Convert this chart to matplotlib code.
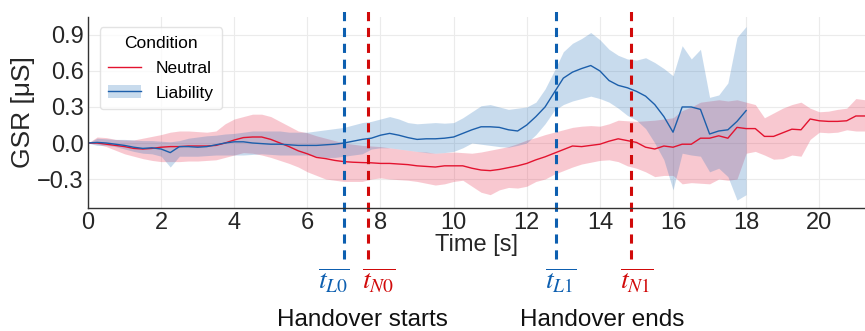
import numpy as np
import matplotlib
matplotlib.use("Agg")
import matplotlib.pyplot as plt
from matplotlib.patches import Patch
from matplotlib.lines import Line2D

plt.rcParams['font.family'] = ['Liberation Sans', 'DejaVu Sans']
plt.rcParams['mathtext.fontset'] = 'stix'

# time axis (0.25 s steps)
t_neutral = np.arange(0, 21.26, 0.25)
t_liability = np.arange(0, 18.01, 0.25)

neutral_mean = [
    0.00, 0.00, -0.01, -0.02, -0.03, -0.045, -0.05, -0.045, -0.035, -0.03,
    -0.03, -0.025, -0.025, -0.025, -0.02, 0.00, 0.025, 0.045, 0.05, 0.05,
    0.03, 0.00, -0.03, -0.065, -0.09, -0.12, -0.13, -0.145, -0.155, -0.16,
    -0.163, -0.165, -0.17, -0.17, -0.175, -0.18, -0.19, -0.195, -0.20, -0.19,
    -0.19, -0.19, -0.21, -0.225, -0.23, -0.22, -0.205, -0.19, -0.17, -0.14,
    -0.115, -0.085, -0.055, -0.025, -0.03, -0.02, -0.01, 0.015, 0.035, 0.02,
    0.005, -0.035, -0.05, -0.025, -0.035, -0.01, -0.01, 0.04, 0.04, 0.06,
    0.04, 0.13, 0.12, 0.12, 0.055, 0.055, 0.085, 0.115, 0.11, 0.20,
    0.185, 0.18, 0.18, 0.185, 0.225, 0.225]
neutral_upper = [
    0.00, 0.05, 0.045, 0.03, 0.025, 0.025, 0.04, 0.055, 0.07, 0.09,
    0.10, 0.10, 0.095, 0.09, 0.10, 0.16, 0.20, 0.22, 0.24, 0.24,
    0.22, 0.18, 0.14, 0.10, 0.085, 0.06, 0.04, 0.02, 0.00, -0.01,
    -0.02, -0.025, -0.03, -0.04, -0.05, -0.06, -0.07, -0.075, -0.085, -0.08,
    -0.075, -0.08, -0.085, -0.075, -0.06, -0.045, -0.03, -0.005, 0.025, 0.045,
    0.07, 0.09, 0.11, 0.13, 0.14, 0.145, 0.14, 0.16, 0.19, 0.185,
    0.18, 0.185, 0.19, 0.20, 0.21, 0.27, 0.30, 0.34, 0.35, 0.36,
    0.35, 0.36, 0.34, 0.32, 0.21, 0.25, 0.29, 0.32, 0.34, 0.29,
    0.26, 0.265, 0.28, 0.29, 0.37, 0.36]
neutral_lower = [
    0.00, -0.01, -0.03, -0.06, -0.09, -0.11, -0.13, -0.145, -0.155, -0.155,
    -0.155, -0.15, -0.15, -0.145, -0.14, -0.12, -0.10, -0.08, -0.085, -0.10,
    -0.12, -0.145, -0.17, -0.20, -0.24, -0.27, -0.30, -0.31, -0.32, -0.32,
    -0.32, -0.30, -0.29, -0.30, -0.305, -0.31, -0.32, -0.335, -0.35, -0.34,
    -0.32, -0.31, -0.36, -0.41, -0.43, -0.39, -0.37, -0.375, -0.36, -0.32,
    -0.30, -0.26, -0.23, -0.20, -0.175, -0.16, -0.145, -0.14, -0.155, -0.19,
    -0.21, -0.24, -0.28, -0.27, -0.27, -0.34, -0.33, -0.335, -0.34, -0.30,
    -0.31, -0.30, -0.085, -0.07, -0.10, -0.135, -0.13, -0.10, -0.11, 0.03,
    0.09, 0.085, 0.09, 0.11, 0.10, 0.10]

liability_mean = [
    0.00, 0.005, 0.00, -0.01, -0.02, -0.035, -0.045, -0.04, -0.05, -0.08,
    -0.03, -0.03, -0.035, -0.03, -0.015, 0.00, 0.01, 0.01, 0.00, -0.005,
    -0.01, -0.01, -0.015, -0.02, -0.02, -0.02, -0.015, -0.01, 0.00, 0.015,
    0.03, 0.04, 0.065, 0.08, 0.065, 0.045, 0.03, 0.035, 0.035, 0.04,
    0.05, 0.08, 0.11, 0.135, 0.135, 0.13, 0.11, 0.10, 0.15, 0.22,
    0.30, 0.42, 0.54, 0.59, 0.62, 0.645, 0.60, 0.52, 0.48, 0.46,
    0.43, 0.39, 0.32, 0.22, 0.09, 0.30, 0.30, 0.28, 0.075, 0.10,
    0.11, 0.18, 0.27]
liability_upper = [
    0.00, 0.04, 0.035, 0.03, 0.03, 0.025, 0.02, 0.02, 0.015, 0.01,
    0.02, 0.04, 0.05, 0.06, 0.065, 0.075, 0.08, 0.09, 0.10, 0.10,
    0.10, 0.10, 0.09, 0.09, 0.09, 0.10, 0.11, 0.12, 0.13, 0.15,
    0.17, 0.18, 0.20, 0.22, 0.20, 0.17, 0.16, 0.165, 0.17, 0.165,
    0.17, 0.21, 0.26, 0.31, 0.32, 0.30, 0.28, 0.29, 0.30, 0.34,
    0.45, 0.60, 0.76, 0.83, 0.87, 0.92, 0.86, 0.78, 0.73, 0.70,
    0.69, 0.71, 0.67, 0.62, 0.56, 0.81, 0.70, 0.78, 0.38, 0.40,
    0.50, 0.88, 0.97]
liability_lower = [
    0.00, -0.02, -0.02, -0.03, -0.05, -0.07, -0.085, -0.09, -0.11, -0.20,
    -0.11, -0.11, -0.11, -0.105, -0.10, -0.10, -0.10, -0.10, -0.095, -0.09,
    -0.095, -0.10, -0.10, -0.10, -0.10, -0.11, -0.12, -0.12, -0.11, -0.10,
    -0.09, -0.05, -0.04, -0.04, -0.05, -0.06, -0.07, -0.08, -0.085, -0.08,
    -0.07, -0.04, 0.00, -0.01, -0.02, -0.03, -0.035, -0.02, 0.00, 0.07,
    0.16, 0.27, 0.32, 0.35, 0.37, 0.39, 0.37, 0.34, 0.29, 0.23,
    0.19, 0.12, 0.00, -0.14, -0.39, -0.085, -0.10, -0.11, -0.24, -0.21,
    -0.28, -0.475, -0.43]

# handover event times
event_times = [7.0, 7.65, 12.79, 14.86]
event_labels = [r'$\overline{t_{L0}}$', r'$\overline{t_{N0}}$',
                r'$\overline{t_{L1}}$', r'$\overline{t_{N1}}$']
event_label_x = [6.72, 7.96, 12.93, 15.0]
event_colors = ['#0d5fb0', '#d10a0a', '#0d5fb0', '#d10a0a']

red = '#e3132f'
blue = '#1c5fab'
pink_fill = (231/255, 39/255, 71/255)
blue_fill = (39/255, 115/255, 187/255)

fig = plt.figure(figsize=(8.65, 3.31), dpi=100)
ax = fig.add_axes([0.1017, 0.372, 0.8983, 0.577])

ax.fill_between(t_neutral, neutral_lower, neutral_upper, color=pink_fill,
                alpha=0.25, linewidth=0)
ax.fill_between(t_liability, liability_lower, liability_upper, color=blue_fill,
                alpha=0.25, linewidth=0)
ax.plot(t_neutral, neutral_mean, color=red, lw=1.0)
ax.plot(t_liability, liability_mean, color=blue, lw=1.0)

for x, c in zip(event_times, event_colors):
    ax.axvline(x, ymin=-0.27, ymax=1.03, color=c, lw=2.2, ls=(0, (3, 2.2)), clip_on=False)

for x, lab, c in zip(event_label_x, event_labels, event_colors):
    ax.text(x, -1.15, lab, color=c, fontsize=20, ha='center', va='center')
ax.text(7.51, -1.47, 'Handover starts', fontsize=17.5, ha='center', va='center', color='#111111')
ax.text(14.05, -1.47, 'Handover ends', fontsize=17.5, ha='center', va='center', color='#111111')

ax.set_xlim(0, 21.25)
ax.set_ylim(-0.54, 1.05)
ax.set_xticks(range(0, 21, 2))
ax.set_yticks([-0.3, 0.0, 0.3, 0.6, 0.9])
ax.tick_params(labelsize=17, length=0, colors='#262626', pad=3)
ax.set_xlabel('Time [s]', fontsize=17, labelpad=0, color='#262626')
ax.set_ylabel('GSR [μS]', fontsize=19, color='#262626', labelpad=2)
ax.grid(True, color='#ebebeb', lw=0.8)
ax.set_axisbelow(True)
for s in ['top', 'right']:
    ax.spines[s].set_visible(False)
for s in ['left', 'bottom']:
    ax.spines[s].set_color('#333333')
    ax.spines[s].set_linewidth(1.0)

handles = [Line2D([], [], color=red, lw=1.0),
           (Patch(facecolor=blue_fill, alpha=0.25, lw=0), Line2D([], [], color=blue, lw=1.0))]
leg = ax.legend(handles, ['Neutral', 'Liability'], title='Condition', loc='upper left',
                bbox_to_anchor=(0.004, 0.99), fontsize=12.5, title_fontsize=12.5,
                frameon=True, handlelength=1.9, labelspacing=0.55, borderpad=0.5)
leg.get_frame().set_edgecolor('#dddddd')

fig.savefig('out.png', dpi=100)
